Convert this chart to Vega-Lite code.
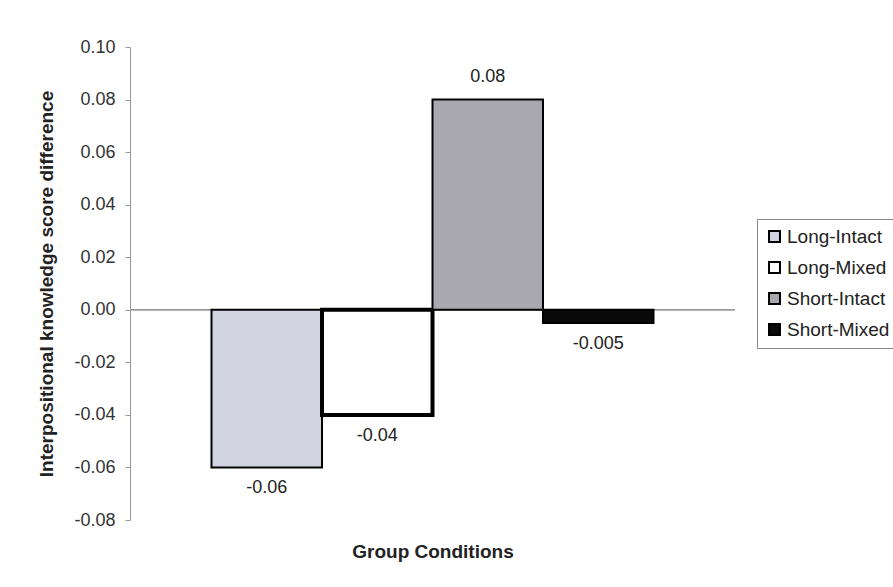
{
  "$schema": "https://vega.github.io/schema/vega-lite/v6.json",
  "width": 605,
  "height": 473,
  "autosize": {"type": "none"},
  "padding": {"left": 130, "top": 47, "right": 158, "bottom": 67},
  "background": "white",
  "config": {
    "font": "Liberation Sans",
    "view": {"stroke": null},
    "locale": {
      "number": {"decimal": ".", "thousands": ",", "grouping": [3], "currency": ["$", ""], "minus": "-"}
    }
  },
  "data": {
    "values": [
      {"group": "Long-Intact", "value": -0.06},
      {"group": "Long-Mixed", "value": -0.04},
      {"group": "Short-Intact", "value": 0.08},
      {"group": "Short-Mixed", "value": -0.005}
    ]
  },
  "encoding": {
    "x": {
      "field": "group",
      "type": "nominal",
      "sort": ["Long-Intact", "Long-Mixed", "Short-Intact", "Short-Mixed"],
      "scale": {"paddingInner": 0, "paddingOuter": 0.7376},
      "axis": {
        "title": "Group Conditions",
        "labels": false,
        "ticks": false,
        "domain": false,
        "titleFontSize": 19,
        "titleFontWeight": "bold",
        "titleColor": "#222",
        "titlePadding": 22
      }
    },
    "y": {
      "field": "value",
      "type": "quantitative",
      "scale": {"domain": [-0.08, 0.1], "nice": false, "zero": false},
      "axis": {
        "title": "Interpositional knowledge score difference",
        "values": [-0.08, -0.06, -0.04, -0.02, 0, 0.02, 0.04, 0.06, 0.08, 0.1],
        "format": ".2f",
        "grid": false,
        "labelFontSize": 18,
        "labelColor": "#333",
        "labelPadding": 10,
        "tickSize": 5,
        "tickColor": "#999",
        "domainColor": "#999",
        "titleFontSize": 19,
        "titleFontWeight": "bold",
        "titleColor": "#222",
        "titlePadding": 17
      }
    }
  },
  "layer": [
    {
      "mark": {"type": "rule", "color": "#999", "strokeWidth": 1},
      "encoding": {"y": {"datum": 0}, "x": null}
    },
    {
      "mark": {"type": "bar", "stroke": "black"},
      "encoding": {
        "fill": {
          "field": "group",
          "type": "nominal",
          "sort": ["Long-Intact", "Long-Mixed", "Short-Intact", "Short-Mixed"],
          "scale": {
            "domain": ["Long-Intact", "Long-Mixed", "Short-Intact", "Short-Mixed"],
            "range": ["#d3d4e2", "#ffffff", "#a8a8ae", "#0a0a0a"]
          },
          "legend": {
            "title": null,
            "orient": "none",
            "legendX": 627,
            "legendY": 172,
            "symbolType": "square",
            "symbolSize": 120,
            "symbolStrokeColor": "black",
            "symbolStrokeWidth": 2,
            "symbolOpacity": 1,
            "labelFontSize": 19,
            "labelColor": "#222",
            "labelOffset": 3,
            "rowPadding": 11,
            "padding": 8,
            "strokeColor": "#888",
            "fillColor": "white"
          }
        },
        "strokeWidth": {
          "condition": {"test": "datum.group === 'Long-Mixed'", "value": 4},
          "value": 2
        }
      }
    },
    {
      "transform": [{"filter": "datum.value >= 0"}],
      "mark": {"type": "text", "baseline": "bottom", "dy": -14, "fontSize": 18, "color": "#222"},
      "encoding": {"text": {"field": "value", "type": "quantitative", "format": ".1r"}}
    },
    {
      "transform": [{"filter": "datum.value < 0"}],
      "mark": {"type": "text", "baseline": "top", "dy": 12, "fontSize": 18, "color": "#222"},
      "encoding": {"text": {"field": "value", "type": "quantitative", "format": ".1r"}}
    }
  ]
}
